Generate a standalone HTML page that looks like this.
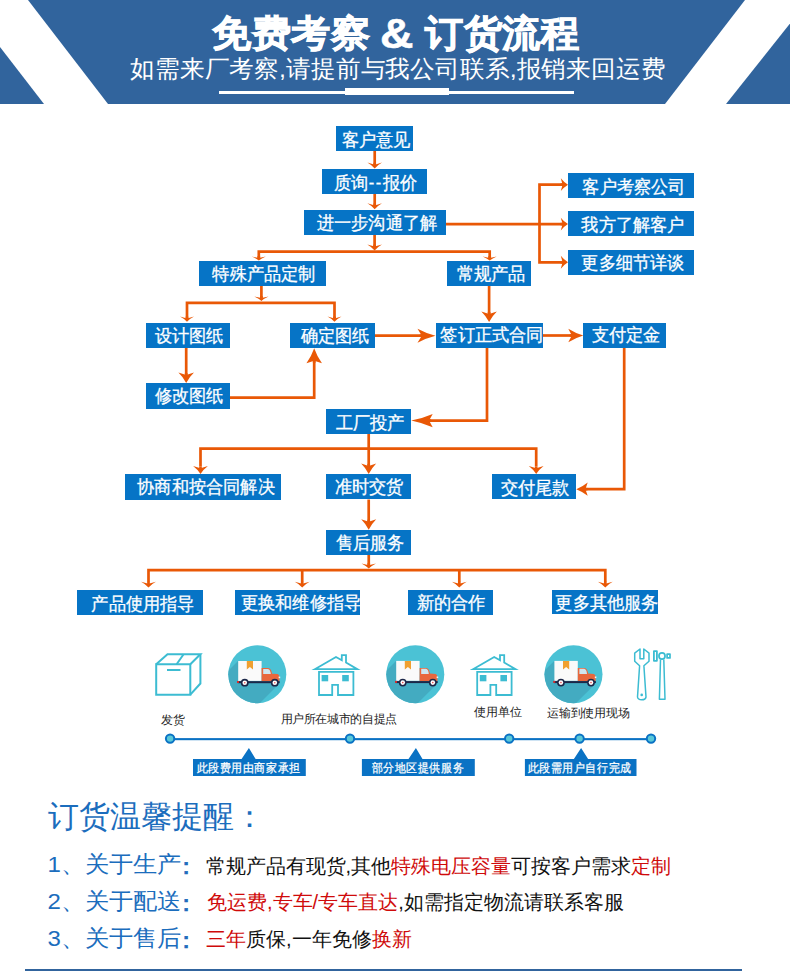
<!DOCTYPE html>
<html><head><meta charset="utf-8"><style>
*{margin:0;padding:0;box-sizing:border-box}
html,body{width:790px;height:971px;overflow:hidden;background:#fff}
body{position:relative;font-family:"Liberation Sans",sans-serif}
.ov{position:absolute;left:0;top:0}
.bx{position:absolute;background:#0674c6;color:#fff;text-align:center;white-space:nowrap;font-size:18px;line-height:25px;letter-spacing:0px}
.bx span{position:relative;display:inline-block;transform:scaleX(0.955);-webkit-text-stroke:0.3px #fff}
.hy{letter-spacing:1.8px}
.t1{position:absolute;top:11.8px;color:#fff;font-weight:bold;font-size:39px;line-height:44px;white-space:nowrap;-webkit-text-stroke:0.9px #fff;transform-origin:0 0}
.amp{font-size:41px;-webkit-text-stroke:0.5px #fff;transform:scale(1.13,1.04)}
.t2{position:absolute;left:130px;top:54.7px;color:#fff;font-size:25px;line-height:28px;white-space:nowrap;transform:scale(0.994,0.97);transform-origin:0 0}
.lab{position:absolute;font-size:12px;color:#222;line-height:16px;white-space:nowrap}
.tag{position:absolute;background:#1672c0;color:#fff;font-size:11.5px;line-height:17px;height:17px;text-align:center;white-space:nowrap}
.bt{position:absolute;white-space:nowrap;line-height:30px}
.bl{color:#1b6dbd}
.rd{color:#cf0a0a}
.bk{color:#111}

.tagt{position:absolute;color:#fff;font-size:11px;line-height:15px;white-space:nowrap;letter-spacing:0.6px;-webkit-text-stroke:0.25px #fff;transform:scaleY(1.1);transform-origin:0 0}
</style></head>
<body>
<svg class="ov" width="790" height="104" viewBox="0 0 790 104">
<rect x="0" y="0" width="790" height="104" fill="#31649d"/>
<polygon points="0,0 28,0 108,104 44,104 0,47" fill="#fff"/>
<polygon points="745,0 790,0 790,23.5 726,104 665,104" fill="#fff"/>
<rect x="219" y="91" width="126" height="3" fill="#fff"/>
<rect x="345" y="88" width="104" height="7" fill="#fff"/>
<rect x="449" y="91" width="125" height="3" fill="#fff"/>
</svg>
<div class="t1" style="left:212.4px;transform:scale(1.017,0.96)">免费考察</div><div class="t1 amp" style="left:379.6px;top:10.66px">&amp;</div><div class="t1" style="left:424.9px;transform:scale(0.99,0.96)">订货流程</div>
<div class="t2">如需来厂考察,请提前与我公司联系,报销来回运费</div>

<svg class="ov" width="790" height="971" viewBox="0 0 790 971">
<polyline points="374.7,151 374.7,166" fill="none" stroke="#e95806" stroke-width="2.7" stroke-linejoin="miter"/>
<polyline points="374.7,194 374.7,206" fill="none" stroke="#e95806" stroke-width="2.7" stroke-linejoin="miter"/>
<polyline points="446,224.1 564,224.1" fill="none" stroke="#e95806" stroke-width="2.7" stroke-linejoin="miter"/>
<polyline points="564,184.65 539.5,184.65 539.5,262.3 564,262.3" fill="none" stroke="#e95806" stroke-width="2.7" stroke-linejoin="miter"/>
<polyline points="374.6,234.7 374.6,249" fill="none" stroke="#e95806" stroke-width="2.7" stroke-linejoin="miter"/>
<polyline points="258.8,258 258.8,251.6 489.7,251.6 489.7,258" fill="none" stroke="#e95806" stroke-width="2.7" stroke-linejoin="miter"/>
<polyline points="261.4,286 261.4,299" fill="none" stroke="#e95806" stroke-width="2.7" stroke-linejoin="miter"/>
<polyline points="187,318 187,302.8 334.5,302.8 334.5,318" fill="none" stroke="#e95806" stroke-width="2.7" stroke-linejoin="miter"/>
<polyline points="186.2,347.7 186.2,378" fill="none" stroke="#e95806" stroke-width="2.7" stroke-linejoin="miter"/>
<polyline points="230,397.6 314.2,397.6 314.2,358" fill="none" stroke="#e95806" stroke-width="2.7" stroke-linejoin="miter"/>
<polyline points="375,335.7 425,335.7" fill="none" stroke="#e95806" stroke-width="2.7" stroke-linejoin="miter"/>
<polyline points="489.1,286 489.1,315" fill="none" stroke="#e95806" stroke-width="2.7" stroke-linejoin="miter"/>
<polyline points="543,335.5 575,335.5" fill="none" stroke="#e95806" stroke-width="2.7" stroke-linejoin="miter"/>
<polyline points="487,347.7 487,420.6 425,420.6" fill="none" stroke="#e95806" stroke-width="2.7" stroke-linejoin="miter"/>
<polyline points="624.2,347.7 624.2,489.2 584,489.2" fill="none" stroke="#e95806" stroke-width="2.7" stroke-linejoin="miter"/>
<polyline points="368.7,434 368.7,466" fill="none" stroke="#e95806" stroke-width="2.7" stroke-linejoin="miter"/>
<polyline points="200.5,466 200.5,448.6 536.2,448.6 536.2,466" fill="none" stroke="#e95806" stroke-width="2.7" stroke-linejoin="miter"/>
<polyline points="368.7,499.5 368.7,522" fill="none" stroke="#e95806" stroke-width="2.7" stroke-linejoin="miter"/>
<polyline points="368.75,554.9 368.75,566" fill="none" stroke="#e95806" stroke-width="2.7" stroke-linejoin="miter"/>
<polyline points="148.5,582 148.5,570.15 605.3,570.15 605.3,582" fill="none" stroke="#e95806" stroke-width="2.7" stroke-linejoin="miter"/>
<polyline points="302.2,570.15 302.2,582" fill="none" stroke="#e95806" stroke-width="2.7" stroke-linejoin="miter"/>
<polyline points="459.3,570.15 459.3,582" fill="none" stroke="#e95806" stroke-width="2.7" stroke-linejoin="miter"/>
<path d="M374.70,168.60 Q371.93,165.24 367.40,162.60 L374.70,164.80 L382.00,162.60 Q377.47,165.24 374.70,168.60 Z" fill="#e95806"/>
<line x1="374.70" y1="162.80" x2="374.70" y2="166.20" stroke="#e95806" stroke-width="2.7"/>
<path d="M374.70,209.30 Q371.93,205.94 367.40,203.30 L374.70,205.50 L382.00,203.30 Q377.47,205.94 374.70,209.30 Z" fill="#e95806"/>
<line x1="374.70" y1="203.50" x2="374.70" y2="206.90" stroke="#e95806" stroke-width="2.7"/>
<path d="M568.00,184.65 Q563.97,182.20 560.80,178.20 L562.60,184.65 L560.80,191.10 Q563.97,187.10 568.00,184.65 Z" fill="#e95806"/>
<line x1="560.60" y1="184.65" x2="565.12" y2="184.65" stroke="#e95806" stroke-width="2.7"/>
<path d="M568.00,224.10 Q563.97,221.65 560.80,217.65 L562.60,224.10 L560.80,230.55 Q563.97,226.55 568.00,224.10 Z" fill="#e95806"/>
<line x1="560.60" y1="224.10" x2="565.12" y2="224.10" stroke="#e95806" stroke-width="2.7"/>
<path d="M568.00,262.30 Q563.97,259.85 560.80,255.85 L562.60,262.30 L560.80,268.75 Q563.97,264.75 568.00,262.30 Z" fill="#e95806"/>
<line x1="560.60" y1="262.30" x2="565.12" y2="262.30" stroke="#e95806" stroke-width="2.7"/>
<path d="M374.60,250.60 Q371.83,247.24 367.30,244.60 L374.60,246.60 L381.90,244.60 Q377.37,247.24 374.60,250.60 Z" fill="#e95806"/>
<line x1="374.60" y1="244.60" x2="374.60" y2="248.20" stroke="#e95806" stroke-width="2.7"/>
<path d="M258.80,260.60 Q256.14,258.36 251.80,256.60 L258.80,258.10 L265.80,256.60 Q261.46,258.36 258.80,260.60 Z" fill="#e95806"/>
<line x1="258.80" y1="256.10" x2="258.80" y2="259.00" stroke="#e95806" stroke-width="2.7"/>
<path d="M489.70,260.60 Q487.04,258.36 482.70,256.60 L489.70,258.10 L496.70,256.60 Q492.36,258.36 489.70,260.60 Z" fill="#e95806"/>
<line x1="489.70" y1="256.10" x2="489.70" y2="259.00" stroke="#e95806" stroke-width="2.7"/>
<path d="M261.40,301.00 Q258.68,298.48 254.25,296.50 L261.40,298.10 L268.55,296.50 Q264.12,298.48 261.40,301.00 Z" fill="#e95806"/>
<line x1="261.40" y1="296.10" x2="261.40" y2="299.20" stroke="#e95806" stroke-width="2.7"/>
<path d="M187.00,321.80 Q184.34,318.89 180.00,316.60 L187.00,318.60 L194.00,316.60 Q189.66,318.89 187.00,321.80 Z" fill="#e95806"/>
<line x1="187.00" y1="316.60" x2="187.00" y2="319.72" stroke="#e95806" stroke-width="2.7"/>
<path d="M334.50,321.80 Q331.84,318.89 327.50,316.60 L334.50,318.60 L341.50,316.60 Q337.16,318.89 334.50,321.80 Z" fill="#e95806"/>
<line x1="334.50" y1="316.60" x2="334.50" y2="319.72" stroke="#e95806" stroke-width="2.7"/>
<path d="M186.20,383.00 Q183.24,377.12 178.40,372.50 L186.20,375.10 L194.00,372.50 Q189.16,377.12 186.20,383.00 Z" fill="#e95806"/>
<line x1="186.20" y1="373.10" x2="186.20" y2="378.80" stroke="#e95806" stroke-width="2.7"/>
<path d="M314.20,348.30 Q317.14,356.70 321.95,363.30 L314.20,360.80 L306.45,363.30 Q311.25,356.70 314.20,348.30 Z" fill="#e95806"/>
<line x1="314.20" y1="362.80" x2="314.20" y2="354.30" stroke="#e95806" stroke-width="2.7"/>
<path d="M435.50,335.70 Q425.42,333.06 417.50,328.75 L421.80,335.70 L417.50,342.65 Q425.42,338.34 435.50,335.70 Z" fill="#e95806"/>
<line x1="419.80" y1="335.70" x2="428.30" y2="335.70" stroke="#e95806" stroke-width="2.7"/>
<path d="M489.10,322.00 Q486.16,316.06 481.35,311.40 L489.10,314.00 L496.85,311.40 Q492.05,316.06 489.10,322.00 Z" fill="#e95806"/>
<line x1="489.10" y1="312.00" x2="489.10" y2="317.76" stroke="#e95806" stroke-width="2.7"/>
<path d="M583.30,335.50 Q574.90,332.94 568.30,328.75 L571.80,335.50 L568.30,342.25 Q574.90,338.06 583.30,335.50 Z" fill="#e95806"/>
<line x1="569.80" y1="335.50" x2="577.30" y2="335.50" stroke="#e95806" stroke-width="2.7"/>
<path d="M411.20,420.60 Q423.24,423.13 432.70,427.25 L429.10,420.60 L432.70,413.95 Q423.24,418.07 411.20,420.60 Z" fill="#e95806"/>
<line x1="431.10" y1="420.60" x2="419.80" y2="420.60" stroke="#e95806" stroke-width="2.7"/>
<path d="M576.30,489.20 Q582.68,491.73 587.70,495.85 L585.40,489.20 L587.70,482.55 Q582.68,486.67 576.30,489.20 Z" fill="#e95806"/>
<line x1="587.40" y1="489.20" x2="580.86" y2="489.20" stroke="#e95806" stroke-width="2.7"/>
<path d="M368.70,474.00 Q365.85,468.06 361.20,463.40 L368.70,465.90 L376.20,463.40 Q371.55,468.06 368.70,474.00 Z" fill="#e95806"/>
<line x1="368.70" y1="463.90" x2="368.70" y2="469.76" stroke="#e95806" stroke-width="2.7"/>
<path d="M200.50,474.00 Q197.69,469.52 193.10,466.00 L200.50,468.20 L207.90,466.00 Q203.31,469.52 200.50,474.00 Z" fill="#e95806"/>
<line x1="200.50" y1="466.20" x2="200.50" y2="470.80" stroke="#e95806" stroke-width="2.7"/>
<path d="M536.20,474.00 Q533.39,469.52 528.80,466.00 L536.20,468.20 L543.60,466.00 Q539.01,469.52 536.20,474.00 Z" fill="#e95806"/>
<line x1="536.20" y1="466.20" x2="536.20" y2="470.80" stroke="#e95806" stroke-width="2.7"/>
<path d="M368.70,529.80 Q365.85,523.86 361.20,519.20 L368.70,521.70 L376.20,519.20 Q371.55,523.86 368.70,529.80 Z" fill="#e95806"/>
<line x1="368.70" y1="519.70" x2="368.70" y2="525.56" stroke="#e95806" stroke-width="2.7"/>
<path d="M368.75,568.60 Q366.01,565.69 361.55,563.40 L368.75,565.20 L375.95,563.40 Q371.49,565.69 368.75,568.60 Z" fill="#e95806"/>
<line x1="368.75" y1="563.20" x2="368.75" y2="566.52" stroke="#e95806" stroke-width="2.7"/>
<path d="M148.50,587.50 Q145.69,584.31 141.10,581.80 L148.50,583.80 L155.90,581.80 Q151.31,584.31 148.50,587.50 Z" fill="#e95806"/>
<line x1="148.50" y1="581.80" x2="148.50" y2="585.22" stroke="#e95806" stroke-width="2.7"/>
<path d="M302.20,587.50 Q299.39,584.31 294.80,581.80 L302.20,583.80 L309.60,581.80 Q305.01,584.31 302.20,587.50 Z" fill="#e95806"/>
<line x1="302.20" y1="581.80" x2="302.20" y2="585.22" stroke="#e95806" stroke-width="2.7"/>
<path d="M459.30,587.50 Q456.49,584.31 451.90,581.80 L459.30,583.80 L466.70,581.80 Q462.11,584.31 459.30,587.50 Z" fill="#e95806"/>
<line x1="459.30" y1="581.80" x2="459.30" y2="585.22" stroke="#e95806" stroke-width="2.7"/>
<path d="M605.30,587.50 Q602.49,584.31 597.90,581.80 L605.30,583.80 L612.70,581.80 Q608.11,584.31 605.30,587.50 Z" fill="#e95806"/>
<line x1="605.30" y1="581.80" x2="605.30" y2="585.22" stroke="#e95806" stroke-width="2.7"/>
</svg>
<div class="bx" style="left:336px;top:126px;width:77.0px;height:25.0px"><span style="left:1.7px;top:1.75px">客户意见</span></div>
<div class="bx" style="left:322px;top:169px;width:104.5px;height:25.0px"><span style="left:2.0px;top:2.30px">质询<span class="hy">--</span>报价</span></div>
<div class="bx" style="left:304px;top:209.5px;width:142.0px;height:25.0px"><span style="left:2.0px;top:1.10px">进一步沟通了解</span></div>
<div class="bx" style="left:568px;top:173px;width:126.0px;height:25.0px"><span style="left:3.45px;top:2.35px">客户考察公司</span></div>
<div class="bx" style="left:568px;top:210.5px;width:126.0px;height:25.0px"><span style="left:2.4px;top:2.75px">我方了解客户</span></div>
<div class="bx" style="left:568px;top:249.5px;width:126.0px;height:25.0px"><span style="left:2.45px;top:1.95px">更多细节详谈</span></div>
<div class="bx" style="left:199px;top:261px;width:126.5px;height:25.0px"><span style="left:1.4px;top:1.30px">特殊产品定制</span></div>
<div class="bx" style="left:447px;top:261px;width:84.0px;height:25.0px"><span style="left:1.5px;top:0.75px">常规产品</span></div>
<div class="bx" style="left:145.5px;top:322.5px;width:84.5px;height:25.2px"><span style="left:1.0px;top:1.20px">设计图纸</span></div>
<div class="bx" style="left:290.3px;top:322.5px;width:84.7px;height:25.2px"><span style="left:2.35px;top:1.65px">确定图纸</span></div>
<div class="bx" style="left:436.4px;top:322.5px;width:106.6px;height:25.2px"><span style="left:1.45px;top:0.80px">签订正式合同</span></div>
<div class="bx" style="left:583.3px;top:322.5px;width:82.7px;height:25.2px"><span style="left:1.15px;top:0.60px">支付定金</span></div>
<div class="bx" style="left:145.5px;top:383.3px;width:84.5px;height:25.3px"><span style="left:0.8px;top:0.60px">修改图纸</span></div>
<div class="bx" style="left:326.3px;top:409.1px;width:84.6px;height:25.0px"><span style="left:1.55px;top:1.75px">工厂投产</span></div>
<div class="bx" style="left:125.4px;top:474.4px;width:155.6px;height:25.4px"><span style="left:2.4px;top:0.95px">协商和按合同解决</span></div>
<div class="bx" style="left:326.3px;top:474.1px;width:84.6px;height:25.4px"><span style="left:0.05px;top:1.30px">准时交货</span></div>
<div class="bx" style="left:492px;top:474.1px;width:84.1px;height:25.4px"><span style="left:1.25px;top:2.15px">交付尾款</span></div>
<div class="bx" style="left:326.3px;top:529.8px;width:84.6px;height:25.1px"><span style="left:0.95px;top:1.10px">售后服务</span></div>
<div class="bx" style="left:77.4px;top:590px;width:125.4px;height:25.2px"><span style="left:2.55px;top:2.10px">产品使用指导</span></div>
<div class="bx" style="left:234.5px;top:590px;width:125.5px;height:25.0px"><span style="left:3.25px;top:1.25px">更换和维修指导</span></div>
<div class="bx" style="left:408.1px;top:589.8px;width:84.9px;height:25.2px"><span style="left:0.85px;top:1.25px">新的合作</span></div>
<div class="bx" style="left:551.8px;top:589.6px;width:106.4px;height:24.7px"><span style="left:0.9px;top:1.00px">更多其他服务</span></div>
<svg class="ov" width="790" height="971" viewBox="0 0 790 971">
<g fill="none" stroke="#3cbcd2" stroke-width="2" stroke-linejoin="miter">
<path d="M156.2,664.3 L190.3,664.3 L190.3,694.7 L156.2,694.7 Z"/>
<path d="M156.2,664.3 L167.5,654.2 L200.4,654.2 L190.3,664.3"/>
<path d="M200.4,654.2 L200.4,683.5 L190.3,694.7"/>
<path d="M176.6,664.3 L183.6,654.2"/>
<path d="M167,670 L180.5,670"/>
</g>
<g transform="translate(0.00,0.00)"><clipPath id="c257"><circle cx="257.3" cy="674.3" r="29"/></clipPath>
<circle cx="257.3" cy="674.3" r="29" fill="#4bc2d5"/>
<polygon clip-path="url(#c257)" points="238,661 188,711 227,736 277,686" fill="#43abc1"/>
<rect x="238.2" y="661" width="23.4" height="19.9" fill="#fafafa"/>
<polygon points="246.8,661 253,661 253,669.6 249.9,667.1 246.8,669.6" fill="#f0a030"/>
<path d="M261.6,681.2 L261.6,668 L268.2,668 Q271.2,668.3 272,673.7 L277.6,674.1 Q279.4,674.6 279.4,676.6 L279.4,681.2 Z" fill="#e8673d"/>
<path d="M263.2,668.9 L268,668.9 Q270.4,669.2 270.8,674 L263.2,674 Z" fill="#cfe6f0"/>
<rect x="278.6" y="676.6" width="1.6" height="1.6" fill="#f4f4f4"/>
<rect x="237.8" y="681.2" width="41.9" height="2" fill="#1c2748"/>
<rect x="237" y="681" width="2" height="2" fill="#d62a2a"/>
<circle cx="244.75" cy="682.7" r="3.9" fill="#1c2748"/>
<circle cx="244.75" cy="682.7" r="2.3" fill="#fff"/>
<circle cx="244.75" cy="682.7" r="0.8" fill="#e85050"/>
<circle cx="274.8" cy="682.7" r="3.9" fill="#1c2748"/>
<circle cx="274.8" cy="682.7" r="2.3" fill="#fff"/>
<circle cx="274.8" cy="682.7" r="0.8" fill="#e85050"/>
</g>
<g transform="translate(0,0)" fill="none" stroke="#3cbcd2">
<path d="M314.8,669.2 L336,657 L341.8,660.2 L341.8,655.2 L346,655.2 L346,662.6 L357.3,669.2 Z" stroke-width="1.8" stroke-linejoin="miter"/>
<path d="M319,695 L319,671.8 L353.4,671.8 L353.4,695 L338,695 L338,684.8 L332.2,684.8 L332.2,695 Z" stroke-width="1.8"/>
<rect x="321.6" y="675" width="6.6" height="6.3" fill="#3cbcd2" stroke="none"/>
<rect x="342.2" y="675" width="6.6" height="6.3" fill="#3cbcd2" stroke="none"/>
</g>
<g transform="translate(158.00,-0.10)"><clipPath id="c415"><circle cx="257.3" cy="674.3" r="29"/></clipPath>
<circle cx="257.3" cy="674.3" r="29" fill="#4bc2d5"/>
<polygon clip-path="url(#c415)" points="238,661 188,711 227,736 277,686" fill="#43abc1"/>
<rect x="238.2" y="661" width="23.4" height="19.9" fill="#fafafa"/>
<polygon points="246.8,661 253,661 253,669.6 249.9,667.1 246.8,669.6" fill="#f0a030"/>
<path d="M261.6,681.2 L261.6,668 L268.2,668 Q271.2,668.3 272,673.7 L277.6,674.1 Q279.4,674.6 279.4,676.6 L279.4,681.2 Z" fill="#e8673d"/>
<path d="M263.2,668.9 L268,668.9 Q270.4,669.2 270.8,674 L263.2,674 Z" fill="#cfe6f0"/>
<rect x="278.6" y="676.6" width="1.6" height="1.6" fill="#f4f4f4"/>
<rect x="237.8" y="681.2" width="41.9" height="2" fill="#1c2748"/>
<rect x="237" y="681" width="2" height="2" fill="#d62a2a"/>
<circle cx="244.75" cy="682.7" r="3.9" fill="#1c2748"/>
<circle cx="244.75" cy="682.7" r="2.3" fill="#fff"/>
<circle cx="244.75" cy="682.7" r="0.8" fill="#e85050"/>
<circle cx="274.8" cy="682.7" r="3.9" fill="#1c2748"/>
<circle cx="274.8" cy="682.7" r="2.3" fill="#fff"/>
<circle cx="274.8" cy="682.7" r="0.8" fill="#e85050"/>
</g>
<g transform="translate(158.2,0)" fill="none" stroke="#3cbcd2">
<path d="M314.8,669.2 L336,657 L341.8,660.2 L341.8,655.2 L346,655.2 L346,662.6 L357.3,669.2 Z" stroke-width="1.8" stroke-linejoin="miter"/>
<path d="M319,695 L319,671.8 L353.4,671.8 L353.4,695 L338,695 L338,684.8 L332.2,684.8 L332.2,695 Z" stroke-width="1.8"/>
<rect x="321.6" y="675" width="6.6" height="6.3" fill="#3cbcd2" stroke="none"/>
<rect x="342.2" y="675" width="6.6" height="6.3" fill="#3cbcd2" stroke="none"/>
</g>
<g transform="translate(316.20,-0.10)"><clipPath id="c573"><circle cx="257.3" cy="674.3" r="29"/></clipPath>
<circle cx="257.3" cy="674.3" r="29" fill="#4bc2d5"/>
<polygon clip-path="url(#c573)" points="238,661 188,711 227,736 277,686" fill="#43abc1"/>
<rect x="238.2" y="661" width="23.4" height="19.9" fill="#fafafa"/>
<polygon points="246.8,661 253,661 253,669.6 249.9,667.1 246.8,669.6" fill="#f0a030"/>
<path d="M261.6,681.2 L261.6,668 L268.2,668 Q271.2,668.3 272,673.7 L277.6,674.1 Q279.4,674.6 279.4,676.6 L279.4,681.2 Z" fill="#e8673d"/>
<path d="M263.2,668.9 L268,668.9 Q270.4,669.2 270.8,674 L263.2,674 Z" fill="#cfe6f0"/>
<rect x="278.6" y="676.6" width="1.6" height="1.6" fill="#f4f4f4"/>
<rect x="237.8" y="681.2" width="41.9" height="2" fill="#1c2748"/>
<rect x="237" y="681" width="2" height="2" fill="#d62a2a"/>
<circle cx="244.75" cy="682.7" r="3.9" fill="#1c2748"/>
<circle cx="244.75" cy="682.7" r="2.3" fill="#fff"/>
<circle cx="244.75" cy="682.7" r="0.8" fill="#e85050"/>
<circle cx="274.8" cy="682.7" r="3.9" fill="#1c2748"/>
<circle cx="274.8" cy="682.7" r="2.3" fill="#fff"/>
<circle cx="274.8" cy="682.7" r="0.8" fill="#e85050"/>
</g>
<g fill="none" stroke="#3cbcd2" stroke-width="1.5" stroke-linejoin="round">
<path d="M634.7,653.1 L640,649 L640,658.7 L643.8,658.7 L643.8,649 L649,653.1 L649,661.2 L643.9,665.7 L646,697 Q645.5,699.8 641.7,699.8 Q637.9,699.8 637.5,697 L639.6,665.7 L634.7,661.2 Z"/>
<rect x="653.9" y="651.2" width="3" height="9.6" stroke-width="1.8"/>
<circle cx="662" cy="656" r="3.05" stroke-width="1.7"/>
<rect x="667.1" y="654.1" width="2.9" height="3.8" stroke-width="1.7"/>
<path d="M660.5,659.5 L659.4,699.3 L665,699.3 L663.8,659.5"/>
</g>
<circle cx="641.7" cy="694.9" r="1.3" fill="#3cbcd2"/>
</svg>
<svg class="ov" width="790" height="971" viewBox="0 0 790 971">
<rect x="170" y="738.1" width="481" height="2.1" fill="#0a72c4"/>
<circle cx="170.1" cy="738.6" r="4.2" fill="#5ac8d8" stroke="#0a72c4" stroke-width="2"/><circle cx="350" cy="738.6" r="4.2" fill="#5ac8d8" stroke="#0a72c4" stroke-width="2"/><circle cx="509.2" cy="738.6" r="4.2" fill="#5ac8d8" stroke="#0a72c4" stroke-width="2"/><circle cx="579.6" cy="738.6" r="4.2" fill="#5ac8d8" stroke="#0a72c4" stroke-width="2"/><circle cx="651" cy="738.6" r="4.2" fill="#5ac8d8" stroke="#0a72c4" stroke-width="2"/>
<polygon points="193,759 241.6,759 248.9,748 255.6,759 305.8,759 305.8,776.1 193,776.1" fill="#0a72c4"/>
<polygon points="361.9,759 408.5,759 415.9,748 422.5,759 474.8,759 474.8,775.9 361.9,775.9" fill="#0a72c4"/>
<polygon points="524.9,759 573.9,759 581.1,748 588.1,759 636.5,759 636.5,776.1 524.9,776.1" fill="#0a72c4"/>
<rect x="25" y="969" width="717" height="2" fill="#31649d"/>
</svg>
<div class="lab" style="left:161px;top:712px">发货</div>
<div class="lab" style="left:280.5px;top:710.5px;letter-spacing:-0.35px">用户所在城市的自提点</div>
<div class="lab" style="left:474px;top:703.5px">使用单位</div>
<div class="lab" style="left:547px;top:705px;letter-spacing:-0.25px">运输到使用现场</div>
<div class="tagt" style="left:196.5px;top:760px">此段费用由商家承担</div>
<div class="tagt" style="left:371.5px;top:760px">部分地区提供服务</div>
<div class="tagt" style="left:527.5px;top:760px">此段需用户自行完成</div>


<div class="bt bl" style="left:48px;top:797px;font-size:31px;line-height:40px">订货温馨提醒：</div>
<div class="bt bl" style="left:47.5px;top:849px;font-size:24px;transform:scaleY(0.95)">1、关于生产<span style="position:relative;left:-7.2px;top:2px;-webkit-text-stroke:0.7px">：</span></div>
<div class="bt bk" style="left:205.5px;top:850.5px;font-size:20px">常规产品有现货,其他<span class="rd">特殊电压容量</span>可按客户需求<span class="rd">定制</span></div>
<div class="bt bl" style="left:47.5px;top:886px;font-size:24px;transform:scaleY(0.95)">2、关于配送<span style="position:relative;left:-7.2px;top:2px;-webkit-text-stroke:0.7px">：</span></div>
<div class="bt bk" style="left:207px;top:887px;font-size:20px"><span class="rd">免运费,专车/专车直达</span>,如需指定物流请联系客服</div>
<div class="bt bl" style="left:47.5px;top:923px;font-size:24px;transform:scaleY(0.95)">3、关于售后<span style="position:relative;left:-7.2px;top:2px;-webkit-text-stroke:0.7px">：</span></div>
<div class="bt bk" style="left:206px;top:924px;font-size:20px"><span class="rd">三年</span>质保,一年免修<span class="rd">换新</span></div>

</body></html>
